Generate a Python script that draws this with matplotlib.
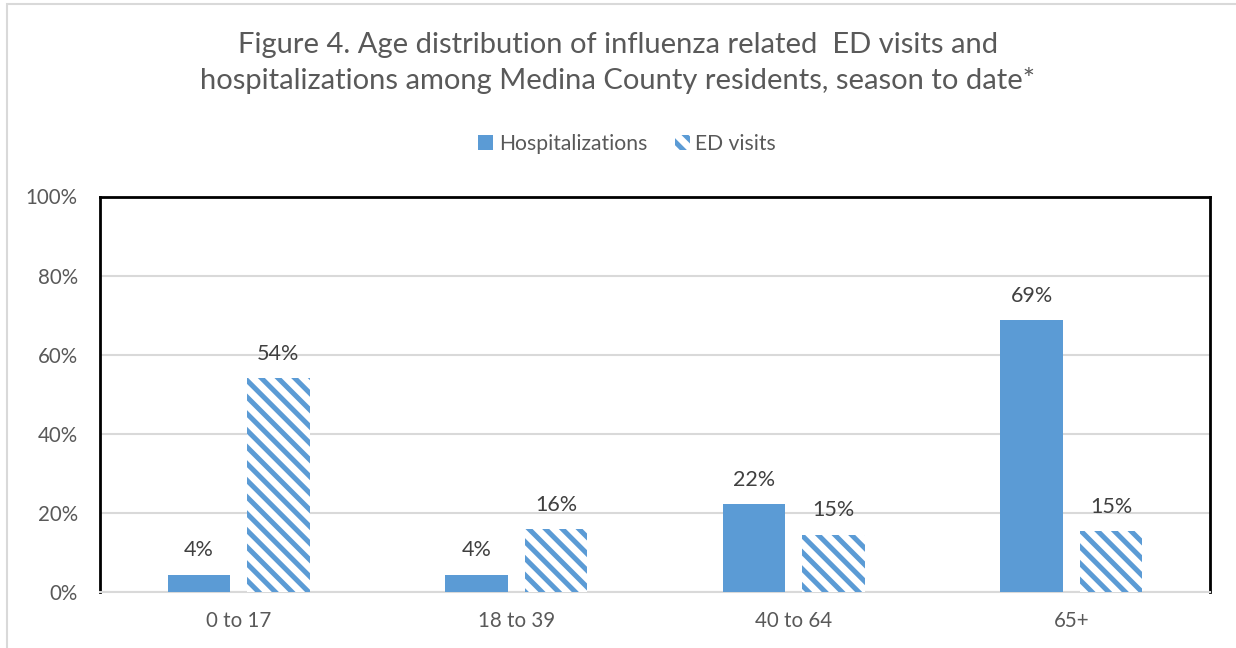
import matplotlib
matplotlib.use("Agg")
import matplotlib.pyplot as plt
from matplotlib.patches import Rectangle
import numpy as np

categories = ["0 to 17", "18 to 39", "40 to 64", "65+"]
hospitalizations = [4.4, 4.4, 22.3, 68.8]
ed_visits = [54.1, 15.9, 14.5, 15.3]
hosp_labels = ["4%", "4%", "22%", "69%"]
ed_labels = ["54%", "16%", "15%", "15%"]
yticks = [0, 20, 40, 60, 80, 100]
ytick_labels = ["0%", "20%", "40%", "60%", "80%", "100%"]

blue = "#5B9BD5"
txt = "#595959"
FONT = ["Lato", "DejaVu Sans"]
plt.rcParams["font.family"] = FONT
plt.rcParams["hatch.linewidth"] = 3.6
plt.rcParams["hatch.color"] = blue

W, H = 1236, 648
fig = plt.figure(figsize=(W / 100, H / 100), dpi=100)

# outer chart border
fig.patches.append(Rectangle((6.5 / W, -0.1), 1.2, (H - 4.5) / H + 0.1,
                             transform=fig.transFigure, fill=False,
                             edgecolor="#D9D9D9", linewidth=1.5))

left, right, top, bottom = 100, 1210, 196.5, 592
ax = fig.add_axes([left / W, 1 - bottom / H, (right - left) / W, (bottom - top) / H])

x = np.arange(len(categories))
bw = 0.225
off = 0.143
ax.bar(x - off, hospitalizations, bw, color=blue, edgecolor="none", label="Hospitalizations", zorder=3)
ax.bar(x + off, ed_visits, bw, color="white", edgecolor=blue, hatch="\\\\", linewidth=0,
       label="ED visits", zorder=3)

for xi, v, l in zip(x - off, hospitalizations, hosp_labels):
    ax.text(xi, v + 3.6, l, ha="center", va="bottom", fontsize=15.5, color="#404040")
for xi, v, l in zip(x + off, ed_visits, ed_labels):
    ax.text(xi, v + 3.6, l, ha="center", va="bottom", fontsize=15.5, color="#404040")

ax.set_xlim(-0.5, 3.5)
ax.set_ylim(0, 100)
ax.set_yticks(yticks)
ax.set_yticklabels(ytick_labels)
ax.set_xticks(x)
ax.set_xticklabels(categories)
ax.tick_params(axis="both", length=0, labelsize=14.8, labelcolor=txt)
ax.tick_params(axis="y", pad=16)
ax.tick_params(axis="x", pad=14)
ax.grid(axis="y", color="#D9D9D9", linewidth=1.5, zorder=0)
ax.set_axisbelow(True)
for s in ["left", "top", "right"]:
    ax.spines[s].set_color("black")
    ax.spines[s].set_linewidth(2)
ax.spines["bottom"].set_color("#D9D9D9")
ax.spines["bottom"].set_linewidth(1.5)

fig.text(0.5, 1 - 45 / H, "Figure 4. Age distribution of influenza related  ED visits and",
         ha="center", va="center", fontsize=21, color=txt)
fig.text(0.5, 1 - 81 / H, "hospitalizations among Medina County residents, season to date*",
         ha="center", va="center", fontsize=21, color=txt)

leg = fig.legend(loc="center", bbox_to_anchor=(627 / W, 1 - 144 / H), ncol=2, frameon=False,
                 fontsize=15.2, handlelength=0.72, handleheight=0.72, handletextpad=0.25,
                 columnspacing=1.3, labelcolor=txt)

fig.savefig("out.png", dpi=100)
